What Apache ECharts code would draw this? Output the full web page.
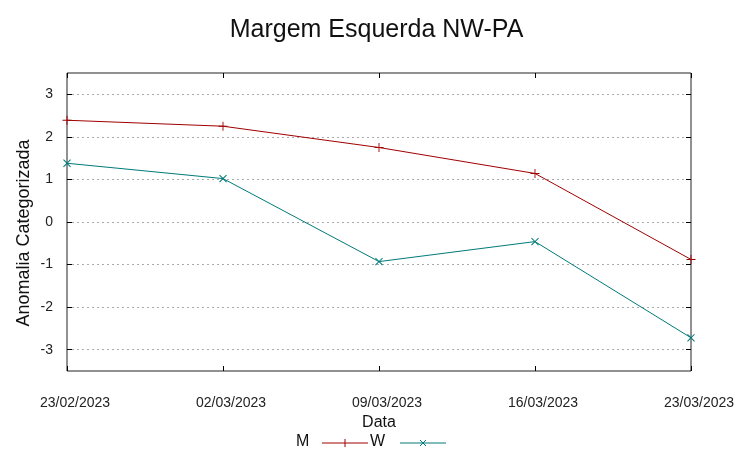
<!DOCTYPE html>
<html>
<head>
<meta charset="utf-8">
<script src="https://cdn.jsdelivr.net/npm/echarts@6/dist/echarts.min.js"></script>
<style>html,body{margin:0;padding:0;background:#fff;}#c{width:753px;height:459px;}</style>
</head>
<body>
<div id="c"></div>
<script>
var categories = ['23/02/2023', '02/03/2023', '09/03/2023', '16/03/2023', '23/03/2023'];
var seriesM = [2.39, 2.25, 1.75, 1.14, -0.88];
var seriesW = [1.38, 1.02, -0.93, -0.46, -2.72];
var yTicks = [-3, -2, -1, 0, 1, 2, 3];

var colM = '#a00000';
var colW = '#007a7a';
var plusPath = 'path://M4.5,0H5.5V4.5H10V5.5H5.5V10H4.5V5.5H0V4.5H4.5Z';
var font = 'Liberation Sans, Arial, sans-serif';

var gridL = 67, gridR = 62, gridT = 73, gridB = 88;
var W = 753;

function yAx(gridIndex, extra) {
  var a = {
    type: 'value', gridIndex: gridIndex, min: -3.5, max: 3.5, interval: 0.5,
    axisLine: { show: false },
    axisTick: { show: false },
    axisLabel: { show: false },
    splitLine: { show: false }
  };
  for (var k in extra) a[k] = extra[k];
  return a;
}
function hideX(gridIndex) {
  return { type: 'value', gridIndex: gridIndex, min: 0, max: 1, show: false };
}

var chart = echarts.init(document.getElementById('c'));
chart.setOption({
  animation: false,
  backgroundColor: '#fff',
  title: {
    text: 'Margem Esquerda NW-PA',
    left: 'center', top: 13,
    textStyle: { fontFamily: font, fontSize: 25, fontWeight: 'normal', color: '#111' }
  },
  grid: [
    { left: gridL, right: gridR, top: gridT, bottom: gridB, show: true, borderColor: '#222', borderWidth: 1, backgroundColor: 'transparent' },
    { left: gridL, width: 5, top: gridT, bottom: gridB },
    { left: W - gridR - 5, width: 5, top: gridT, bottom: gridB }
  ],
  xAxis: [{
    type: 'category', data: categories, boundaryGap: false, position: 'bottom', gridIndex: 0,
    name: 'Data', nameLocation: 'middle', nameGap: 44, nameMoveOverlap: false,
    nameTextStyle: { fontFamily: font, fontSize: 16, color: '#111' },
    axisLine: { show: false, onZero: false },
    axisTick: { show: true, inside: true, length: 5, lineStyle: { color: '#000' } },
    axisLabel: { fontFamily: font, fontSize: 14, color: '#222', margin: 25, padding: [0, 0, 0, 16] },
    splitLine: { show: false }
  }, {
    type: 'category', data: categories, boundaryGap: false, position: 'top', gridIndex: 0,
    axisLine: { show: false, onZero: false },
    axisTick: { show: true, inside: true, length: 5, lineStyle: { color: '#000' } },
    axisLabel: { show: false },
    splitLine: { show: false }
  }, hideX(1), hideX(2)],
  yAxis: [
    yAx(0, {
      position: 'left',
      name: 'Anomalia Categorizada', nameLocation: 'middle', nameGap: 34, nameMoveOverlap: false,
      nameTextStyle: { fontFamily: font, fontSize: 18, color: '#111', padding: [0, 22, 0, 0] },
      axisLabel: {
        show: true, fontFamily: font, fontSize: 14, color: '#222', margin: 14,
        showMinLabel: false, showMaxLabel: false,
        formatter: function (v) { return yTicks.indexOf(v) >= 0 ? String(v) : ''; }
      },
      splitLine: { show: true, lineStyle: { color: ['transparent', '#aaa'], type: [2, 3], width: 1 } }
    }),
    yAx(1, { splitLine: { show: true, lineStyle: { color: ['transparent', '#000'], width: 1 } } }),
    yAx(2, { splitLine: { show: true, lineStyle: { color: ['transparent', '#000'], width: 1 } } })
  ],
  series: [{
    name: 'M', type: 'line', data: seriesM, xAxisIndex: 0, yAxisIndex: 0,
    symbol: plusPath, symbolSize: 9, showAllSymbol: true,
    itemStyle: { color: colM },
    lineStyle: { color: colM, width: 1 }
  }, {
    name: 'W', type: 'line', data: seriesW, xAxisIndex: 0, yAxisIndex: 0,
    symbol: plusPath, symbolSize: 10, symbolRotate: 45, showAllSymbol: true,
    itemStyle: { color: colW },
    lineStyle: { color: colW, width: 1 }
  }],
  graphic: [
    { type: 'text', left: 296, top: 434, style: { text: 'M', font: '16px ' + font, fill: '#111' } },
    { type: 'line', shape: { x1: 322, y1: 443, x2: 368, y2: 443 }, style: { stroke: colM, lineWidth: 1 } },
    { type: 'line', shape: { x1: 345, y1: 439, x2: 345, y2: 447 }, style: { stroke: colM, lineWidth: 1 } },
    { type: 'text', left: 370, top: 434, style: { text: 'W', font: '16px ' + font, fill: '#111' } },
    { type: 'line', shape: { x1: 400, y1: 443, x2: 446, y2: 443 }, style: { stroke: colW, lineWidth: 1 } },
    { type: 'line', shape: { x1: 420, y1: 440, x2: 426, y2: 446 }, style: { stroke: colW, lineWidth: 1 } },
    { type: 'line', shape: { x1: 420, y1: 446, x2: 426, y2: 440 }, style: { stroke: colW, lineWidth: 1 } }
  ]
});
</script>
</body>
</html>
